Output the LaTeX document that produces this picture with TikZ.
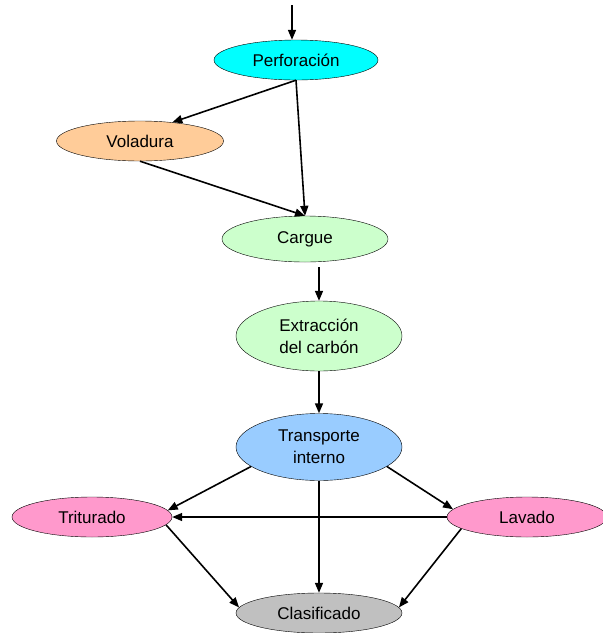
\documentclass[tikz,border=0pt]{standalone}
\usepackage{fontspec}
\setmainfont{Liberation Sans}
\definecolor{cian}{HTML}{00FFFF}
\definecolor{naranja}{HTML}{FFCC99}
\definecolor{verde}{HTML}{CCFFCC}
\definecolor{azul}{HTML}{99CCFF}
\definecolor{rosa}{HTML}{FF99CC}
\definecolor{gris}{HTML}{C0C0C0}
\usetikzlibrary{arrows.meta,shapes.geometric}
\tikzset{
  proc/.style={ellipse,draw=black,thin,align=center,inner sep=0pt,
               minimum width=166pt,minimum height=40pt,
               font=\fontsize{17}{22}\selectfont},
  arr/.style={-{Triangle[length=10pt,width=8pt]},line width=1.6pt,black}
}

\begin{document}
\begin{tikzpicture}[x=1pt,y=-1pt]
    \useasboundingbox (0,0) rectangle (603,633);
    \node[proc,fill=cian,minimum width=164pt] (perf) at (296,60) {Perforación};
    \node[proc,fill=naranja,minimum width=167pt] (volad) at (140,141) {Voladura};
    \node[proc,fill=verde,minimum height=46pt] (cargue) at (305,239) {Cargue};
    \node[proc,fill=verde,minimum height=70pt] (extr) at (319,336) {Extracción\\del carbón};
    \node[proc,fill=azul,minimum height=67pt] (trans) at (319,447) {Transporte\\interno};
    \node[proc,fill=rosa,minimum width=160pt] (trit) at (92,517) {Triturado};
    \node[proc,fill=rosa,minimum width=160pt] (lav) at (527,517) {Lavado};
    \node[proc,fill=gris] (clas) at (319,613) {Clasificado};
    \coordinate (inicio) at (292,5);
    % flujo principal
    \draw[arr] (inicio) -- (inicio |- perf.north);
    \draw[arr] (perf.south) -- (volad.30);
    \draw[arr] (perf.south) -- (cargue.north);
    \draw[arr] (volad.south) -- (cargue.north);
    \draw[arr] ([yshift=-5pt]cargue.south -| extr.north) -- (extr.north);
    \draw[arr] (extr.south) -- (trans.north);
    % planta
    \draw[arr] (trans.196) -- (trit.5);
    \draw[arr] (trans.-16) -- (lav.174);
    \draw[arr] (trans.south) -- (clas.north);
    \draw[arr] (lav.west) -- (trit.east);
    \draw[arr] (trit.-6) -- (clas.176);
    \draw[arr] (lav.190) -- (clas.4);
  \end{tikzpicture}
\end{document}
